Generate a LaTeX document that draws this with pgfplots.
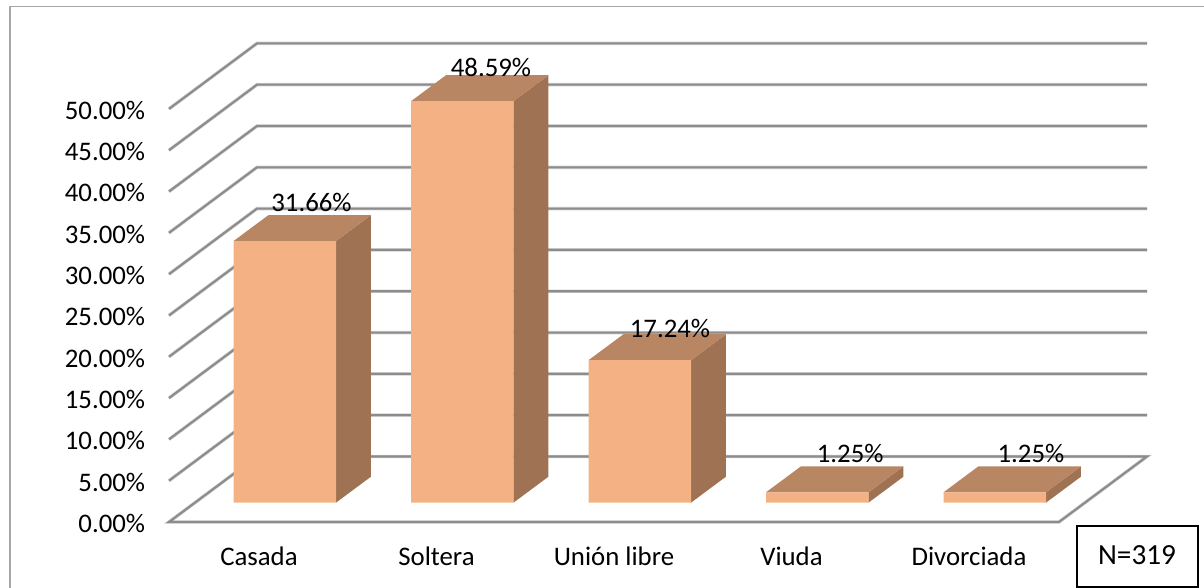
\documentclass[border=0pt]{standalone}
\usepackage{fontspec}
\setmainfont{Carlito}
\usepackage{pgfplots}
\pgfplotsset{compat=1.18}
\definecolor{grid}{HTML}{8C8C8C}
\definecolor{gridsh}{HTML}{CFCFCF}
\definecolor{frame}{HTML}{A6A6A6}
\definecolor{front}{HTML}{F4B184}
\definecolor{topf}{HTML}{B88662}
\definecolor{sidef}{HTML}{9E7252}
\newcommand{\fs}{\fontsize{13.4}{15.5}\selectfont}
\begin{document}
\begin{tikzpicture}
\path[use as bounding box] (-84.5pt,-33pt) rectangle (517.5pt,261pt);
\begin{axis}[
  at={(0pt,0pt)}, anchor=south west,
  scale only axis, width=489pt, height=239.3pt,
  xmin=-0.507, xmax=5.003, ymin=-2.34, ymax=55.59,
  clip=false,
  axis line style={draw=none},
  tick style={draw=none},
  xtick={0,1,2,3,4},
  xticklabels={Casada,Soltera,Unión libre,Viuda,Divorciada},
  ytick={-2.34,2.66,7.66,12.66,17.66,22.66,27.66,32.66,37.66,42.66,47.66},
  yticklabels={0.00\%,5.00\%,10.00\%,15.00\%,20.00\%,25.00\%,30.00\%,35.00\%,40.00\%,45.00\%,50.00\%},
  tick label style={font=\fs},
  yticklabel style={xshift=-8.4pt,yshift=-0.7pt},
  xticklabel style={yshift=-9pt},
  grid=none,
]
% wall and side gridlines
\pgfplotsset{gl/.style={draw=grid,line width=1.05pt,no marks,line join=miter,preaction={draw=gridsh,line width=1.7pt}}}
\addplot[gl] coordinates {(-0.507,2.66)(-0.0113,10.59)(5.003,10.59)};
\addplot[gl] coordinates {(-0.507,7.66)(-0.0113,15.59)(5.003,15.59)};
\addplot[gl] coordinates {(-0.507,12.66)(-0.0113,20.59)(5.003,20.59)};
\addplot[gl] coordinates {(-0.507,17.66)(-0.0113,25.59)(5.003,25.59)};
\addplot[gl] coordinates {(-0.507,22.66)(-0.0113,30.59)(5.003,30.59)};
\addplot[gl] coordinates {(-0.507,27.66)(-0.0113,35.59)(5.003,35.59)};
\addplot[gl] coordinates {(-0.507,32.66)(-0.0113,40.59)(5.003,40.59)};
\addplot[gl] coordinates {(-0.507,37.66)(-0.0113,45.59)(5.003,45.59)};
\addplot[gl] coordinates {(-0.507,42.66)(-0.0113,50.59)(5.003,50.59)};
\addplot[gl] coordinates {(-0.507,47.66)(-0.0113,55.59)(5.003,55.59)};
% floor
\addplot[gl] coordinates {(-0.0113,5.59)(5.003,5.59)(4.507,-2.34)(-0.507,-2.34)(-0.0113,5.59)};
% bar sides
\addplot[fill=sidef,draw=none,no marks] coordinates {(0.4338,0)(0.6310,3.148)(0.6310,34.808)(0.4338,31.66)} -- cycle;
\addplot[fill=sidef,draw=none,no marks] coordinates {(1.4338,0)(1.6310,3.148)(1.6310,51.738)(1.4338,48.59)} -- cycle;
\addplot[fill=sidef,draw=none,no marks] coordinates {(2.4338,0)(2.6310,3.148)(2.6310,20.388)(2.4338,17.24)} -- cycle;
\addplot[fill=sidef,draw=none,no marks] coordinates {(3.4338,0)(3.6310,3.148)(3.6310,4.398)(3.4338,1.25)} -- cycle;
\addplot[fill=sidef,draw=none,no marks] coordinates {(4.4338,0)(4.6310,3.148)(4.6310,4.398)(4.4338,1.25)} -- cycle;
% bar tops
\addplot[fill=topf,draw=none,no marks] coordinates {(-0.1437,31.66)(0.4338,31.66)(0.6310,34.808)(0.0535,34.808)} -- cycle;
\addplot[fill=topf,draw=none,no marks] coordinates {(0.8563,48.59)(1.4338,48.59)(1.6310,51.738)(1.0535,51.738)} -- cycle;
\addplot[fill=topf,draw=none,no marks] coordinates {(1.8563,17.24)(2.4338,17.24)(2.6310,20.388)(2.0535,20.388)} -- cycle;
\addplot[fill=topf,draw=none,no marks] coordinates {(2.8563,1.25)(3.4338,1.25)(3.6310,4.398)(3.0535,4.398)} -- cycle;
\addplot[fill=topf,draw=none,no marks] coordinates {(3.8563,1.25)(4.4338,1.25)(4.6310,4.398)(4.0535,4.398)} -- cycle;
% bar fronts
\addplot[ybar,bar width=51.25pt,bar shift=13pt,fill=front,draw=none] coordinates {(0,31.66)(1,48.59)(2,17.24)(3,1.25)(4,1.25)};
% value labels
\node[font=\fs,anchor=base] at (axis cs:0.2958,35.25) {31.66\%};
\node[font=\fs,anchor=base] at (axis cs:1.3070,51.55) {48.59\%};
\node[font=\fs,anchor=base] at (axis cs:2.3155,19.96) {17.24\%};
\node[font=\fs,anchor=base] at (axis cs:3.3310,4.86) {1.25\%};
\node[font=\fs,anchor=base] at (axis cs:4.3490,4.86) {1.25\%};
\end{axis}
\draw[frame,line width=0.8pt] (-79.5pt,-33pt) -- (-79.5pt,257.75pt) -- (517.5pt,257.75pt);
\draw[black,line width=0.8pt] (454pt,-2pt) rectangle (514.5pt,-32.5pt);
\node[font=\fontsize{14.6}{17}\selectfont] at (484pt,-16.5pt) {N=319};
\end{tikzpicture}
\end{document}
